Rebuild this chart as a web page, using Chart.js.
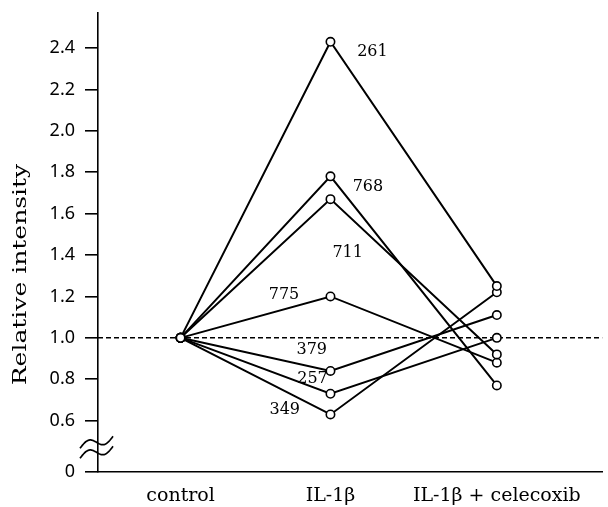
<!DOCTYPE html>
<html>
<head>
<meta charset="utf-8">
<script src="https://cdn.jsdelivr.net/npm/chart.js@4.4.1/dist/chart.umd.min.js"></script>
<style>
    html, body { margin: 0; padding: 0; background: #ffffff; }
    #wrap { width: 608px; height: 507px; }
</style>
</head>
<body>
<div id="wrap"><canvas id="intensityChart"></canvas></div>
<script>

// ======================================
// Data
// ======================================

const categories = ["control", "IL-1β", "IL-1β + celecoxib"];

// the third column sits a little further right than an even split
const categoryX = [0, 1, 2.11];

const sample261 = [1.0, 2.43, 1.25];
const sample768 = [1.0, 1.78, 0.77];
const sample711 = [1.0, 1.67, 0.92];
const sample775 = [1.0, 1.20, 0.88];
const sample379 = [1.0, 0.84, 1.11];
const sample257 = [1.0, 0.73, 1.00];
const sample349 = [1.0, 0.63, 1.22];

const sampleNames = ["261", "768", "711", "775", "379", "257", "349"];
const sampleValues = [sample261, sample768, sample711, sample775, sample379, sample257, sample349];

const yTickValues = [0.6, 0.8, 1.0, 1.2, 1.4, 1.6, 1.8, 2.0, 2.2, 2.4];
const baselineValue = 1.0;

// where each sample number is written, in axis units [x, y]
const nameAnchors = [
    [1.28, 2.38],
    [1.25, 1.73],
    [1.115, 1.41],
    [0.69, 1.21],
    [0.875, 0.94],
    [0.88, 0.80],
    [0.695, 0.65]
];

// broken axis: the bottom of the axis is labelled 0
const yMin = 0.352;
const yMax = 2.569;

// ======================================
// Plugins
// ======================================

const baselinePlugin = {
    id: "baseline",
    beforeDatasetsDraw(chart) {
        const { ctx, chartArea, scales } = chart;
        const y = scales.y.getPixelForValue(baselineValue);
        ctx.save();
        ctx.strokeStyle = "#000";
        ctx.lineWidth = 1.5;
        ctx.setLineDash([5, 3]);
        ctx.beginPath();
        ctx.moveTo(chartArea.left, y);
        ctx.lineTo(chartArea.right, y);
        ctx.stroke();
        ctx.restore();
    }
};

const decorPlugin = {
    id: "decor",
    afterDraw(chart) {
        const { ctx, chartArea, scales } = chart;

        // axis break marks
        const cx = chartArea.left - 1;
        const mid = (scales.y.getPixelForValue(0.6) + chartArea.bottom) / 2 + 1;
        ctx.save();
        ctx.strokeStyle = "#000";
        ctx.lineWidth = 1.7;
        [mid - 5, mid + 5].forEach(cy => {
            ctx.beginPath();
            for (let i = 0; i <= 40; i++) {
                const t = i / 40;
                const px = cx - 17 + 33 * t;
                const py = cy + 6 - 12 * t - 5 * Math.sin(2 * Math.PI * t);
                if (i === 0) ctx.moveTo(px, py); else ctx.lineTo(px, py);
            }
            ctx.stroke();
        });

        // sample numbers
        ctx.fillStyle = "#000";
        ctx.font = "16px 'DejaVu Serif'";
        ctx.textAlign = "center";
        ctx.textBaseline = "middle";
        sampleNames.forEach((name, i) => {
            const [ax, ay] = nameAnchors[i];
            ctx.fillText(name, scales.x.getPixelForValue(ax), scales.y.getPixelForValue(ay));
        });

        // y axis title
        ctx.translate(21, (chartArea.top + chartArea.bottom) / 2 + 32);
        ctx.rotate(-Math.PI / 2);
        ctx.scale(1, 0.72);
        ctx.font = "25px 'DejaVu Serif'";
        ctx.fillText("Relative intensity", 0, 0);
        ctx.restore();
    }
};

// ======================================
// Chart
// ======================================

const datasets = sampleValues.map((values, i) => ({
    label: sampleNames[i],
    data: values.map((v, j) => ({ x: categoryX[j], y: v })),
    borderColor: "#000",
    borderWidth: 2,
    pointRadius: 4.2,
    pointBorderWidth: 1.6,
    pointBackgroundColor: "#fff",
    pointBorderColor: "#000",
    tension: 0,
    fill: false
}));

new Chart(document.getElementById("intensityChart"), {

    type: "line",

    data: { datasets: datasets },

    options: {
        responsive: true,
        maintainAspectRatio: false,
        animation: false,
        layout: { padding: { top: 13, right: 1, left: 0, bottom: 0 } },
        plugins: {
            legend: { display: false },
            tooltip: { enabled: false }
        },
        scales: {
            x: {
                type: "linear",
                min: -0.551,
                max: 2.813,
                afterBuildTicks: scale => {
                    scale.ticks = categoryX.map(v => ({ value: v }));
                },
                afterFit: scale => {
                    scale.height = 35;
                    scale.paddingLeft = 0;
                    scale.paddingRight = 0;
                },
                ticks: {
                    color: "#000",
                    padding: 5,
                    font: { family: "'DejaVu Serif'", size: 19 },
                    callback: (value, index) => categories[index]
                },
                grid: { display: false },
                border: { display: true, color: "#000", width: 1.6 }
            },
            y: {
                type: "linear",
                min: yMin,
                max: yMax,
                afterBuildTicks: scale => {
                    scale.ticks = [yMin].concat(yTickValues).map(v => ({ value: v }));
                },
                afterFit: scale => {
                    scale.width = 98;
                    scale.paddingTop = 0;
                    scale.paddingBottom = 0;
                },
                ticks: {
                    color: "#000",
                    padding: 10,
                    font: { family: "'Noto Sans'", size: 18 },
                    callback: value => value === yMin ? "0" : value.toFixed(1)
                },
                grid: {
                    display: true,
                    drawOnChartArea: false,
                    drawTicks: true,
                    tickLength: 13,
                    color: "#000",
                    lineWidth: 1.6
                },
                border: { display: true, color: "#000", width: 1.6 }
            }
        }
    },

    plugins: [baselinePlugin, decorPlugin]

});

</script>
</body>
</html>
